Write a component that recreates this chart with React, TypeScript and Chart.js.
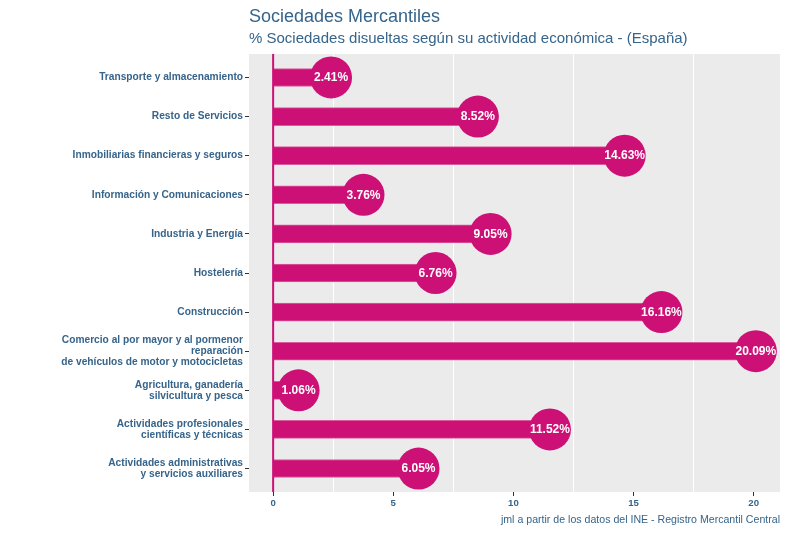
import React, { useEffect, useRef } from "react";
import { Chart, registerables } from "chart.js";

Chart.register(...registerables);

const categories: (string | string[])[] = [
  "Transporte y almacenamiento",
  "Resto de Servicios",
  "Inmobiliarias financieras y seguros",
  "Información y Comunicaciones",
  "Industria y Energía",
  "Hostelería",
  "Construcción",
  ["Comercio al por mayor y al pormenor", "reparación", "de vehículos de motor y motocicletas"],
  ["Agricultura, ganadería", "silvicultura y pesca"],
  ["Actividades profesionales", "científicas y técnicas"],
  ["Actividades administrativas", "y servicios auxiliares"],
];

const values = [2.41, 8.52, 14.63, 3.76, 9.05, 6.76, 16.16, 20.09, 1.06, 11.52, 6.05];

const majorTicks = [0, 5, 10, 15, 20];
const minorTicks = [2.5, 7.5, 12.5, 17.5];

const titleText = "Sociedades Mercantiles";
const subtitleText = "% Sociedades disueltas según su actividad económica - (España)";
const captionText = "jml a partir de los datos del INE - Registro Mercantil Central";

const MAGENTA = "#CD1076";
const BLUE = "#36648B";
const FONT = '"Liberation Sans", Arial, sans-serif';

export default function App() {
  const ref = useRef<HTMLCanvasElement | null>(null);

  useEffect(() => {
    if (!ref.current) return;
    const xMax = Math.max(...values);
    const pad = xMax * 0.05;

    const decor = {
      id: "decor",
      beforeDraw(chart: any) {
        const { ctx, chartArea: a } = chart;
        ctx.save();
        ctx.fillStyle = "#EBEBEB";
        ctx.fillRect(a.left, a.top, a.right - a.left, a.bottom - a.top);
        ctx.restore();
      },
      afterDatasetsDraw(chart: any) {
        const { ctx, chartArea: a, scales } = chart;
        const x0 = scales.x.getPixelForValue(0);
        ctx.save();
        ctx.strokeStyle = MAGENTA;
        ctx.lineWidth = 2;
        ctx.beginPath();
        ctx.moveTo(x0, a.top);
        ctx.lineTo(x0, a.bottom);
        ctx.stroke();
        const meta = chart.getDatasetMeta(0);
        ctx.fillStyle = "#FFFFFF";
        ctx.font = `bold 12px ${FONT}`;
        ctx.textAlign = "center";
        ctx.textBaseline = "middle";
        meta.data.forEach((el: any, i: number) => {
          ctx.fillText(values[i].toFixed(2) + "%", el.x, el.y + 0.5);
        });
        ctx.restore();
      },
      afterDraw(chart: any) {
        const { ctx, chartArea: a } = chart;
        ctx.save();
        ctx.fillStyle = BLUE;
        ctx.textAlign = "left";
        ctx.textBaseline = "alphabetic";
        ctx.font = `18px ${FONT}`;
        ctx.fillText(titleText, a.left, 22);
        ctx.font = `15px ${FONT}`;
        ctx.fillText(subtitleText, a.left, 43);
        ctx.textAlign = "right";
        ctx.font = `10.6px ${FONT}`;
        ctx.fillText(captionText, a.right, 523);
        ctx.restore();
      },
    };

    const chart = new Chart(ref.current, {
      type: "bar",
      data: {
        datasets: [
          {
            type: "scatter",
            data: values.map((v, i) => ({ x: v, y: i })),
            backgroundColor: MAGENTA,
            borderWidth: 0,
            pointRadius: 21,
            pointHoverRadius: 21,
            order: 0,
          } as any,
          {
            type: "bar",
            data: values.map((v, i) => ({ x: v, y: i })),
            backgroundColor: MAGENTA,
            borderColor: "#DB5C9E",
            borderWidth: { top: 1, bottom: 1, left: 0, right: 0 },
            borderSkipped: false,
            barThickness: 18,
            order: 1,
          } as any,
        ],
      },
      options: {
        indexAxis: "y",
        animation: false,
        responsive: false,
        devicePixelRatio: 1,
        events: [],
        layout: { autoPadding: false, padding: { top: 54, right: 7, bottom: 25, left: 0 } },
        plugins: {
          legend: { display: false },
          tooltip: { enabled: false },
          title: { display: false },
        },
        scales: {
          x: {
            type: "linear",
            position: "bottom",
            offset: false,
            min: -pad,
            max: xMax + pad,
            afterBuildTicks: (s: any) => {
              s.ticks = [...majorTicks, ...minorTicks].sort((a, b) => a - b).map((v) => ({ value: v }));
            },
            afterFit: (s: any) => {
              s.height = 16;
              s.paddingLeft = 0;
              s.paddingRight = 0;
              s.paddingTop = 0;
              s.paddingBottom = 0;
            },
            border: { display: false },
            grid: {
              offset: false,
              drawOnChartArea: true,
              drawTicks: true,
              tickLength: 4,
              lineWidth: 1,
              color: (c: any) => (c.tick && majorTicks.includes(c.tick.value) ? "rgba(0,0,0,0)" : "#FFFFFF"),
              tickColor: (c: any) => (c.tick && majorTicks.includes(c.tick.value) ? "#333333" : "rgba(0,0,0,0)"),
            },
            ticks: {
              autoSkip: false,
              maxRotation: 0,
              padding: 2,
              color: BLUE,
              font: { family: FONT, size: 9.6, weight: "bold" },
              callback: (v: any) => (majorTicks.includes(Number(v)) ? String(v) : ""),
            },
          },
          y: {
            type: "linear",
            position: "left",
            reverse: true,
            offset: false,
            min: -0.6,
            max: categories.length - 1 + 0.6,
            afterBuildTicks: (s: any) => {
              s.ticks = categories.map((_, i) => ({ value: i }));
            },
            afterFit: (s: any) => {
              s.width = 249;
              s.paddingLeft = 0;
              s.paddingRight = 0;
              s.paddingTop = 0;
              s.paddingBottom = 0;
            },
            border: { display: false },
            grid: {
              offset: false,
              drawOnChartArea: false,
              drawTicks: true,
              tickLength: 4,
              color: "#333333",
            },
            ticks: {
              autoSkip: false,
              padding: 2,
              color: BLUE,
              font: { family: FONT, size: 10.2, weight: "bold", lineHeight: 1.1 },
              callback: (v: any) => categories[Math.round(Number(v))] as any,
            },
          },
        },
      } as any,
      plugins: [decor],
    });
    return () => chart.destroy();
  }, []);

  return (
    <div style={{ position: "absolute", left: 0, top: 0, width: 787, height: 533, background: "#FFFFFF" }}>
      <canvas ref={ref} width={787} height={533} style={{ display: "block" }} />
    </div>
  );
}
